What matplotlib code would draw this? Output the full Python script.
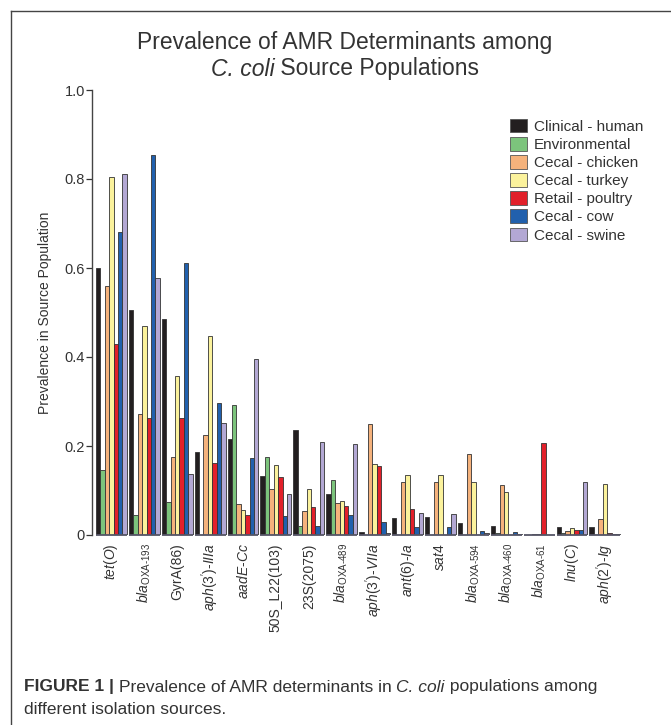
import numpy as np
import matplotlib.pyplot as plt
from matplotlib.patches import Patch
from matplotlib.lines import Line2D

plt.rcParams['font.family'] = ['Liberation Sans', 'DejaVu Sans']
plt.rcParams['mathtext.fontset'] = 'custom'
plt.rcParams['mathtext.rm'] = 'Liberation Sans'
plt.rcParams['mathtext.it'] = 'Liberation Sans:italic'
plt.rcParams['mathtext.bf'] = 'Liberation Sans:bold'

# ---------------- data ----------------
genes = [r'$\mathit{tet(O)}$', r'$\mathit{bla}_{\mathrm{OXA‐193}}$', 'GyrA(86)',
         r"$\mathit{aph(3')‐IIIa}$", r'$\mathit{aadE‐Cc}$', '50S_L22(103)', '23S(2075)',
         r'$\mathit{bla}_{\mathrm{OXA‐489}}$', r"$\mathit{aph(3')‐VIIa}$", r'$\mathit{ant(6)‐Ia}$',
         r'$\mathit{sat4}$', r'$\mathit{bla}_{\mathrm{OXA‐594}}$', r'$\mathit{bla}_{\mathrm{OXA‐460}}$',
         r'$\mathit{bla}_{\mathrm{OXA‐61}}$', r'$\mathit{lnu(C)}$', r"$\mathit{aph(2')‐Ig}$"]

sources = ['Clinical - human', 'Environmental', 'Cecal - chicken', 'Cecal - turkey',
           'Retail - poultry', 'Cecal - cow', 'Cecal - swine']
colors = ['#231f20', '#7cc47c', '#f5b27c', '#fbf29c', '#e2202a', '#2160ad', '#b3a8d4']

clinical_human = [0.60, 0.505, 0.485, 0.187, 0.215, 0.132, 0.237, 0.092, 0.006, 0.039, 0.041, 0.028, 0.021, 0.0, 0.017, 0.017]
environmental  = [0.145, 0.045, 0.075, 0.0, 0.292, 0.176, 0.020, 0.124, 0.0, 0.0, 0.0, 0.0, 0.005, 0.0, 0.004, 0.0]
cecal_chicken  = [0.56, 0.272, 0.175, 0.225, 0.070, 0.104, 0.055, 0.072, 0.249, 0.120, 0.118, 0.181, 0.112, 0.002, 0.008, 0.037]
cecal_turkey   = [0.805, 0.470, 0.357, 0.447, 0.056, 0.157, 0.103, 0.077, 0.159, 0.135, 0.135, 0.118, 0.097, 0.002, 0.015, 0.115]
retail_poultry = [0.43, 0.262, 0.262, 0.162, 0.046, 0.131, 0.064, 0.065, 0.156, 0.058, 0.0, 0.0, 0.0, 0.207, 0.012, 0.004]
cecal_cow      = [0.682, 0.855, 0.612, 0.296, 0.172, 0.042, 0.021, 0.045, 0.030, 0.017, 0.017, 0.010, 0.007, 0.0, 0.012, 0.003]
cecal_swine    = [0.812, 0.577, 0.137, 0.251, 0.396, 0.092, 0.208, 0.205, 0.005, 0.049, 0.048, 0.004, 0.003, 0.0, 0.120, 0.002]

series = [clinical_human, environmental, cecal_chicken, cecal_turkey,
          retail_poultry, cecal_cow, cecal_swine]

TXT = '#333333'


def rich_text(fig, x0, y, pieces, size, center=False):
    # pieces: list of (string, style, weight); laid out left to right in pixels
    r = fig.canvas.get_renderer()
    arts = []
    for s, style, weight in pieces:
        t = fig.text(0, y, s, fontsize=size, fontstyle=style, fontweight=weight,
                     color=TXT, va='center', ha='left')
        arts.append(t)
    widths = [a.get_window_extent(r).width for a in arts]
    x = x0 - sum(widths) / 2 if center else x0
    for a, w in zip(arts, widths):
        a.set_x(x / fig.bbox.width)
        x += w
    return arts


# ---------------- figure ----------------
fig = plt.figure(figsize=(6.71, 7.25), dpi=100)

# frame lines (journal figure box)
fig.add_artist(Line2D([11/671, 11/671], [0, 1 - 11/725], color='#444444', lw=1.0))
fig.add_artist(Line2D([11/671, 1], [1 - 11/725, 1 - 11/725], color='#444444', lw=1.0))

ax = fig.add_axes([92/671, 1 - 535/725, (660 - 92)/671, 445/725])

x = np.arange(len(genes))
group_w = 0.94
bw = group_w / len(series)
for k, (vals, c) in enumerate(zip(series, colors)):
    offs = -group_w/2 + bw*(k + 0.5)
    ax.bar(x + offs, vals, width=bw, color=c, edgecolor='#333333', linewidth=0.6)

# baseline under each group
ax.hlines(np.zeros(len(x)), x - group_w/2, x + group_w/2, colors='#555566', lw=1.3, clip_on=False)

ax.set_xlim(-0.59, -0.59 + (660 - 92)/32.9)
ax.set_ylim(0, 1.0)
ax.set_yticks([0, 0.2, 0.4, 0.6, 0.8, 1.0])
ax.set_yticklabels(['0', '0.2', '0.4', '0.6', '0.8', '1.0'], fontsize=10.5, color=TXT)
ax.tick_params(axis='y', length=4, width=0.9, pad=1, colors=TXT)
ax.tick_params(axis='x', length=0, pad=6)
ax.set_xticks(x)
ax.set_xticklabels(genes, rotation=90, fontsize=10, color=TXT, va='top', ha='center')

for s in ['top', 'right', 'bottom']:
    ax.spines[s].set_visible(False)
ax.spines['left'].set_color('#444444')
ax.spines['left'].set_linewidth(1.0)

ax.set_ylabel('Prevalence in Source Population', fontsize=10, color=TXT, labelpad=9)

# title
fig.text(345/671, 1 - 42/725, 'Prevalence of AMR Determinants among', ha='center', va='center',
         fontsize=16.5, color=TXT)
rich_text(fig, 345, 1 - 69/725, [('C. coli', 'italic', 'normal'),
                                 (' Source Populations', 'normal', 'normal')], 16.5, center=True)

handles = [Patch(facecolor=c, edgecolor='#555555', linewidth=0.6) for c in colors]
fig.legend(handles, sources, loc='upper left', bbox_to_anchor=(496/671, 1 - 105/725),
           frameon=False, fontsize=11, handlelength=1.1, handleheight=1.0,
           handletextpad=0.5, labelspacing=0.2, labelcolor=TXT)

# caption
rich_text(fig, 24, 1 - 687/725, [('FIGURE 1 | ', 'normal', 'bold'),
                                 ('Prevalence of AMR determinants in ', 'normal', 'normal'),
                                 ('C. coli', 'italic', 'normal'),
                                 (' populations among', 'normal', 'normal')], 12.5)
fig.text(24/671, 1 - 710/725, 'different isolation sources.', fontsize=12.5, color=TXT,
         va='center', ha='left')

fig.savefig('out.png', dpi=100)
